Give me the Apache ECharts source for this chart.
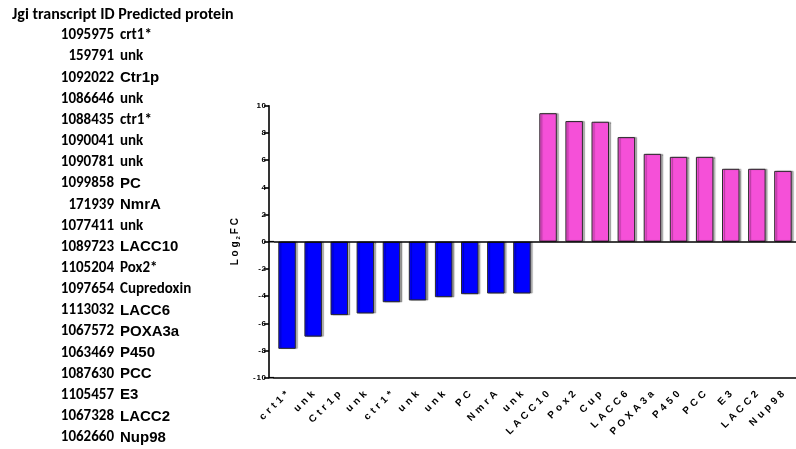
<!DOCTYPE html>
<html>
<head>
<meta charset="utf-8">
<script src="https://cdn.jsdelivr.net/npm/echarts@6/dist/echarts.min.js"></script>
<style>
  html, body { margin: 0; padding: 0; background: #fff; }
  #chart { width: 796px; height: 449px; }
</style>
</head>
<body>
<div id="chart"></div>
<script>
// Bar categories (predicted proteins) and log2 fold-change values
const categories = ['crt1*', 'unk', 'Ctr1p', 'unk', 'ctr1*', 'unk', 'unk', 'PC', 'NmrA', 'unk',
  'LACC10', 'Pox2', 'Cup', 'LACC6', 'POXA3a', 'P450', 'PCC', 'E3', 'LACC2', 'Nup98'];
const log2FC = [-7.88, -6.98, -5.40, -5.28, -4.45, -4.32, -4.08, -3.86, -3.81, -3.81,
  9.45, 8.87, 8.82, 7.69, 6.46, 6.24, 6.24, 5.36, 5.36, 5.21];

// Transcript table printed beside the chart
const transcriptIds = ['1095975', '159791', '1092022', '1086646', '1088435', '1090041', '1090781',
  '1099858', '171939', '1077411', '1089723', '1105204', '1097654', '1113032', '1067572',
  '1063469', '1087630', '1105457', '1067328', '1062660'];
const proteinNames = ['crt1*', 'unk', 'Ctr1p', 'unk', 'ctr1*', 'unk', 'unk', 'PC', 'NmrA', 'unk',
  'LACC10', 'Pox2*', 'Cupredoxin', 'LACC6', 'POXA3a', 'P450', 'PCC', 'E3', 'LACC2', 'Nup98'];
// names typeset in the sans-serif face rather than the humanist one
const sansNames = ['Ctr1p', 'PC', 'NmrA', 'LACC10', 'LACC6', 'POXA3a', 'P450', 'PCC', 'E3', 'LACC2', 'Nup98'];
const tableHeader = ['Jgi transcript ID', 'Predicted protein'];

const yTicks = { min: -10, max: 10, step: 2 };

const GRID = { left: 274, top: 105.7, width: 524, height: 272 };
const AXIS_OFFSET = 5;
const spaced = s => s.split('').join(' \u200A');
const hair = s => s.split('').join('\u200A');

const chart = echarts.init(document.getElementById('chart'), null, { renderer: 'canvas' });

const humanist = 'Carlito, Lato, "Open Sans", sans-serif';
const sans = '"Liberation Sans", Arial, sans-serif';

const tableGraphics = [];
tableGraphics.push({
  type: 'text', x: 12, y: 15,
  style: { text: tableHeader.join(' '), font: 'bold 16px ' + humanist, fill: '#000',
    textAlign: 'left', textVerticalAlign: 'middle' }
});
transcriptIds.forEach((id, i) => {
  const y = 35.5 + i * 21.16;
  tableGraphics.push({
    type: 'text', x: 114, y: y,
    style: { text: id, font: 'bold 15px ' + humanist, fill: '#000',
      textAlign: 'right', textVerticalAlign: 'middle' }
  });
  const isSans = sansNames.includes(proteinNames[i]);
  tableGraphics.push({
    type: 'text', x: 120, y: y,
    style: { text: proteinNames[i], font: 'bold 15px ' + (isSans ? sans : humanist), fill: '#000',
      textAlign: 'left', textVerticalAlign: 'middle' }
  });
});

const barData = log2FC.map(v => ({
  value: v,
  itemStyle: { color: v < 0 ? '#0000FF' : '#F550D8' }
}));

const axisBlack = { color: '#000', width: 1.6 };

chart.setOption({
  animation: false,
  backgroundColor: '#fff',
  grid: { left: GRID.left, top: GRID.top, width: GRID.width, height: GRID.height, containLabel: false },
  xAxis: {
    type: 'category',
    data: categories,
    position: 'bottom',
    axisLine: { onZero: false, lineStyle: axisBlack },
    axisTick: { alignWithLabel: true, length: 5, lineStyle: axisBlack },
    axisLabel: {
      rotate: 45, margin: 15, interval: 0,
      fontFamily: sans, fontWeight: 'bold', fontSize: 10, color: '#000',
      formatter: v => spaced(v)
    },
    splitLine: { show: false }
  },
  yAxis: {
    type: 'value',
    min: yTicks.min, max: yTicks.max, interval: yTicks.step,
    offset: AXIS_OFFSET,
    axisLine: { show: true, lineStyle: axisBlack },
    axisTick: { show: true, length: 5, lineStyle: axisBlack },
    axisLabel: {
      margin: 3, fontFamily: sans, fontWeight: 'bold', fontSize: 8, color: '#000',
      formatter: v => hair(String(v))
    },
    splitLine: { show: false },
    name: '{a|L o g}{s|2}{a|F C}',
    nameLocation: 'middle',
    nameRotate: 90,
    nameGap: 28,
    nameTextStyle: {
      rich: {
        a: { fontFamily: sans, fontWeight: 'bold', fontSize: 10, color: '#000' },
        s: { fontFamily: sans, fontWeight: 'bold', fontSize: 6, color: '#000', padding: [5, 2, 0, 2] }
      }
    }
  },
  series: [{
    type: 'bar',
    data: barData,
    barWidth: 17.5,
    itemStyle: {
      borderColor: '#2b2b2b', borderWidth: 1,
      shadowColor: 'rgba(0,0,0,0.3)', shadowBlur: 1, shadowOffsetX: 2, shadowOffsetY: 0
    },
    markLine: {
      silent: true, symbol: 'none', animation: false,
      label: { show: false },
      lineStyle: { color: '#000', width: 1.6, type: 'solid' },
      data: [{ yAxis: 0 }]
    }
  }],
  graphic: tableGraphics
});

// join the offset y-axis line to the horizontal lines at 0 and at the bottom
const yZero = chart.convertToPixel({ yAxisIndex: 0 }, 0);
const yBottom = chart.convertToPixel({ yAxisIndex: 0 }, yTicks.min);
const joins = [yZero, yBottom].map(py => ({
  type: 'line',
  shape: { x1: GRID.left - AXIS_OFFSET, y1: py, x2: GRID.left, y2: py },
  style: { stroke: '#000', lineWidth: 1.6 },
  z: 10
}));
chart.setOption({ graphic: tableGraphics.concat(joins) });
</script>
</body>
</html>
